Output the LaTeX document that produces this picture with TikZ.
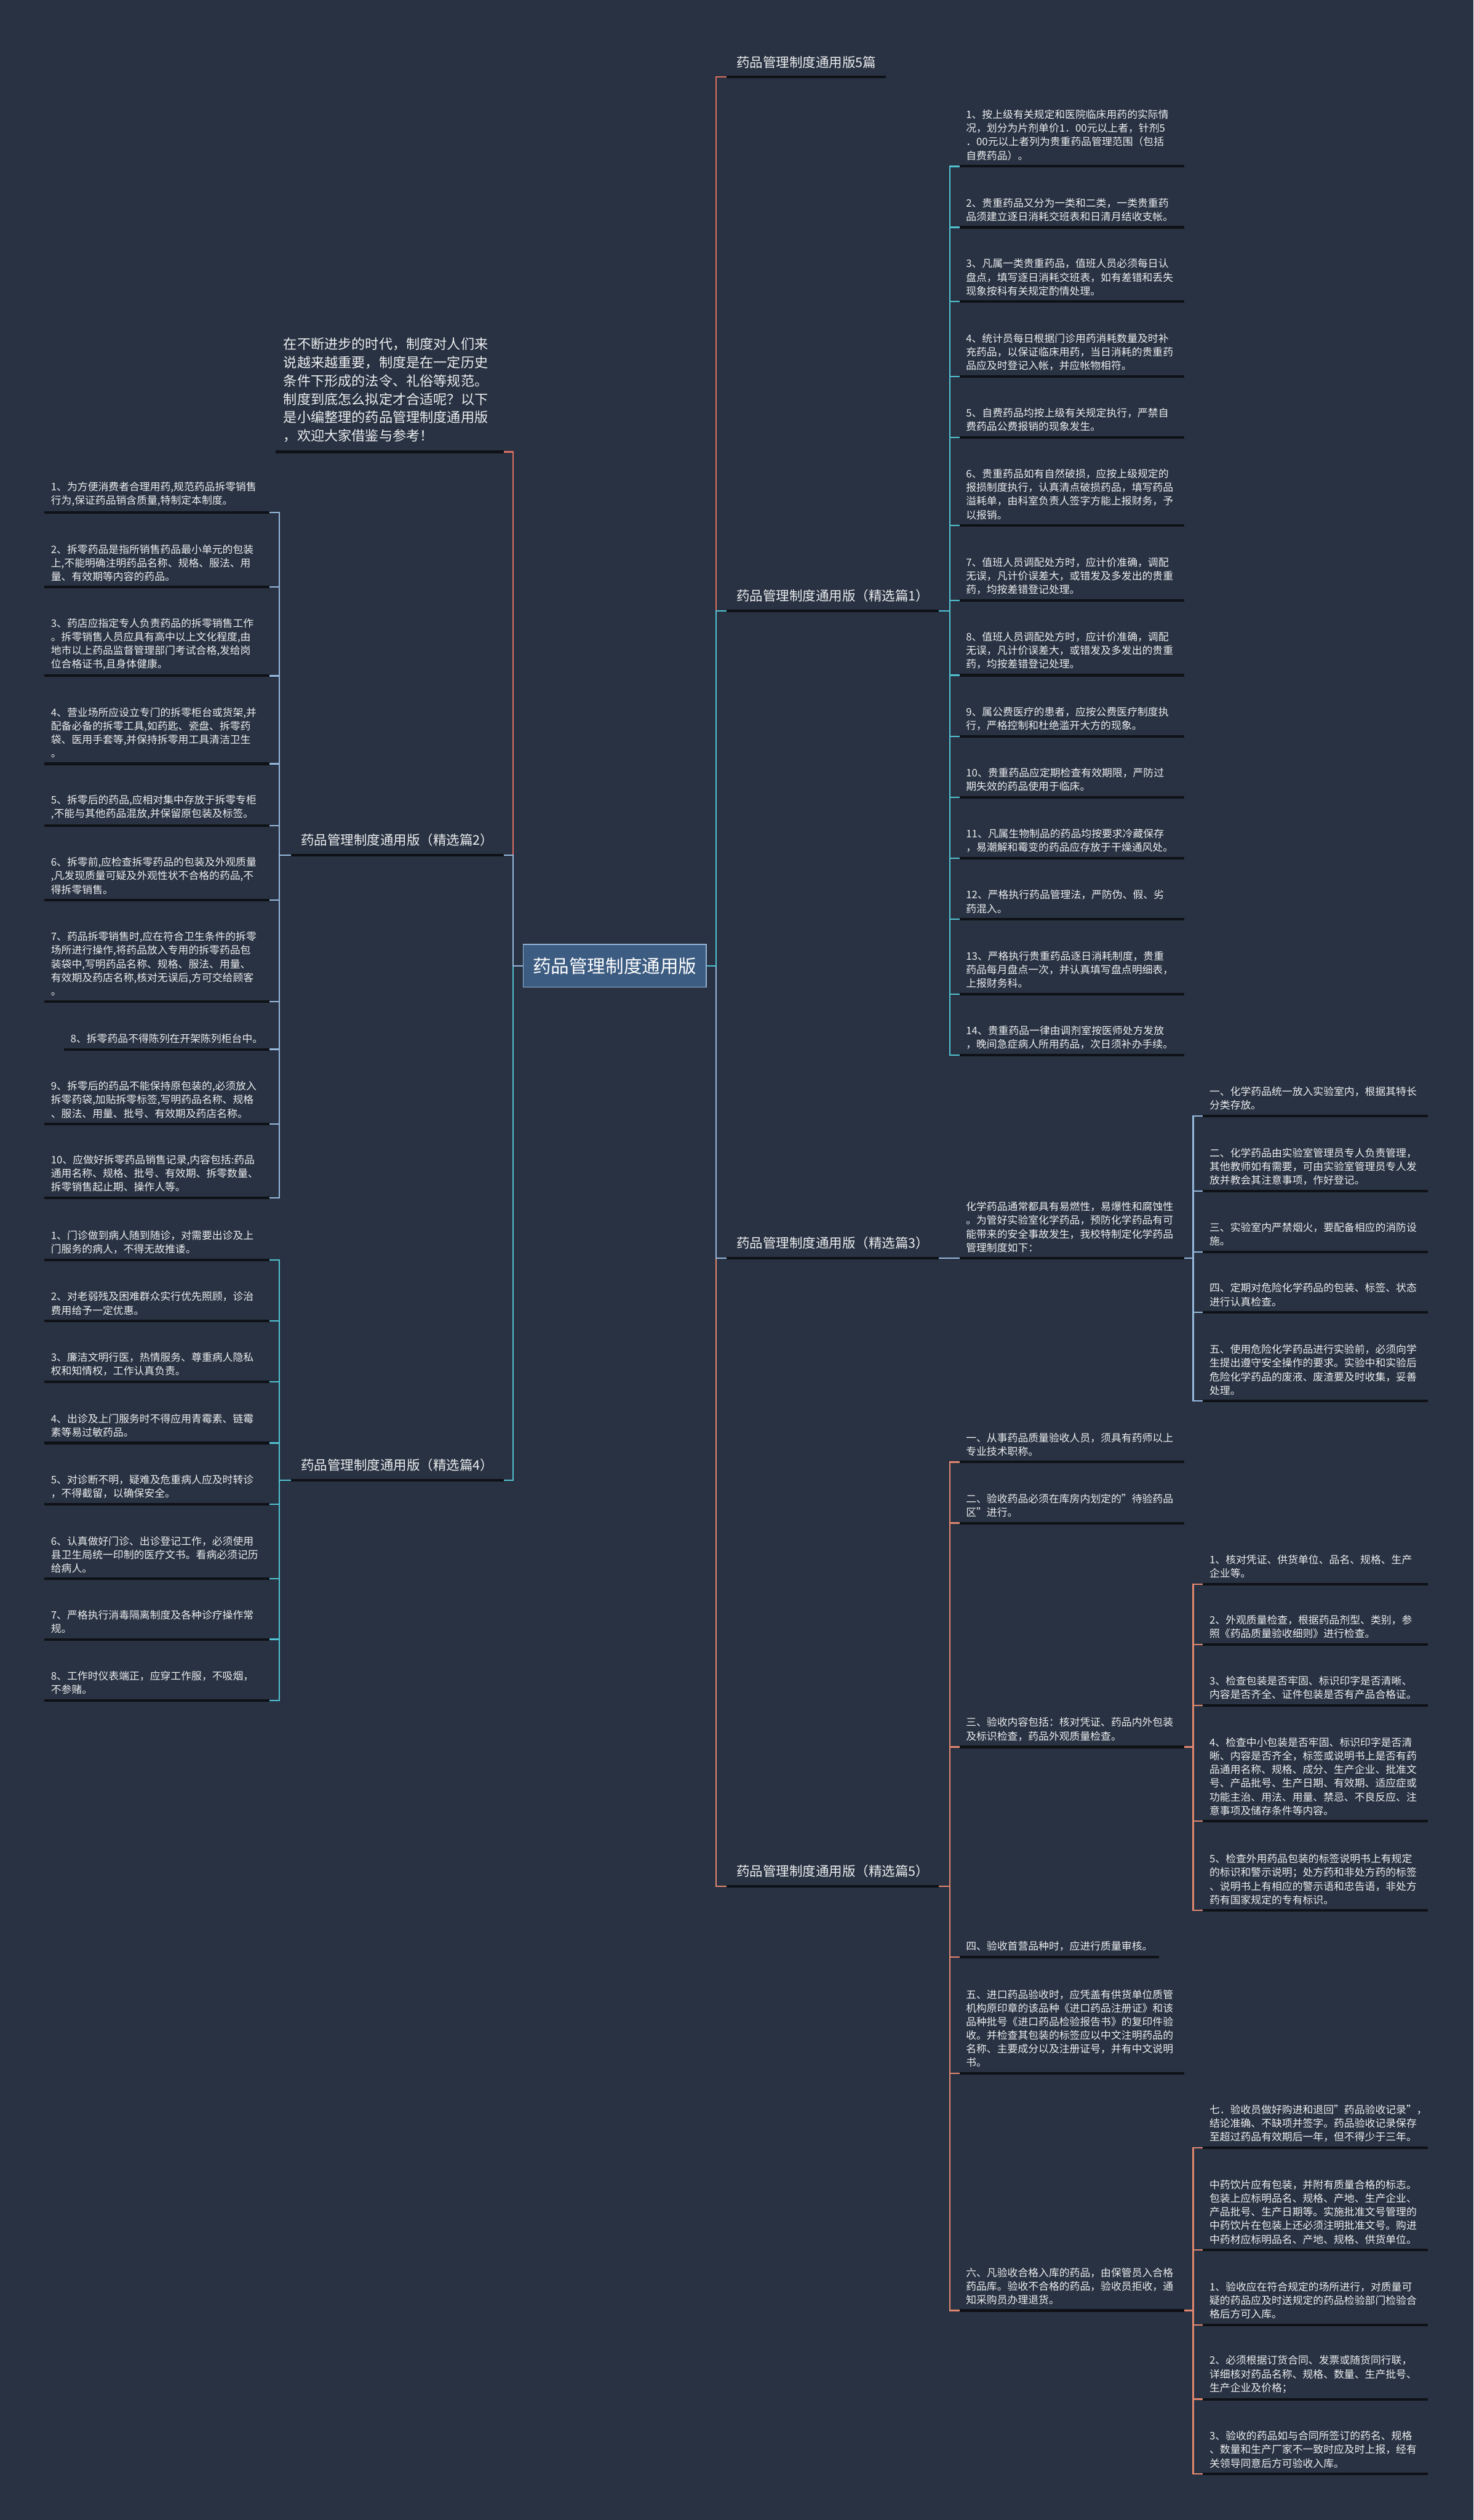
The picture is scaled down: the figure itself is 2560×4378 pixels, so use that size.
\documentclass[tikz,border=0pt]{standalone}
\usepackage{fontspec}
\setmainfont{Noto Sans CJK SC}
\definecolor{bgc}{RGB}{41,50,66}
\definecolor{inkc}{RGB}{236,238,240}
\definecolor{linec}{RGB}{14,17,22}
\definecolor{rootc}{RGB}{60,92,130}
\definecolor{rootd}{RGB}{150,180,215}
\definecolor{redc}{RGB}{222,110,95}
\definecolor{coralc}{RGB}{226,135,110}
\definecolor{tealc}{RGB}{80,195,210}
\definecolor{steelc}{RGB}{150,185,220}
\begin{document}
\begin{tikzpicture}[x=0.5pt, y=-0.5pt,
    rootbox/.style={draw=rootd, fill=rootc, line width=1pt, text=white,
      minimum width=159pt, minimum height=37pt, font=\fontsize{15.8}{18}\selectfont},
    branch/.style={anchor=south west, inner xsep=8.5pt, inner ysep=7.5pt, text=inkc,
      font=\fontsize{11.5}{14}\selectfont},
    lbranch/.style={branch, anchor=south east},
    note/.style={anchor=south east, text width=184.5pt, align=left, inner xsep=6.5pt,
      inner ysep=8pt, text=inkc, font=\fontsize{11.85}{15.9}\selectfont},
    one/.style={anchor=south west, inner xsep=5.5pt, inner ysep=5pt, text=inkc,
      font=\fontsize{9}{11.8}\selectfont},
    leaf/.style={one, text width=184pt, align=left},
    lleaf/.style={leaf, anchor=south east},
    lone/.style={one, anchor=south east},
    uline/.style={draw=linec, line width=2.2pt},
    wire/.style={line width=1.2pt}]
  % canvas in reference pixels, y downwards
  \path[use as bounding box, fill=bgc] (0,0) rectangle (2560,4378);

  \node[rootbox] (root) at (1068,1678) {药品管理制度通用版};

  % right side branches
  \node[branch] (r0) at (1262,134) {药品管理制度通用版5篇};
  \node[branch] (r1) at (1262,1061) {药品管理制度通用版（精选篇1）};
  \node[branch] (r3) at (1262,2186) {药品管理制度通用版（精选篇3）};
  \node[branch] (r5) at (1262,3277) {药品管理制度通用版（精选篇5）};

  % left side branches
  \node[note] (lintro) at (875,785) {在不断进步的时代，制度对人们来\\说越来越重要，制度是在一定历史\\条件下形成的法令、礼俗等规范。\\制度到底怎么拟定才合适呢？以下\\是小编整理的药品管理制度通用版\\，欢迎大家借鉴与参考！};
  \node[lbranch] (l2) at (875,1486) {药品管理制度通用版（精选篇2）};
  \node[lbranch] (l4) at (875,2572) {药品管理制度通用版（精选篇4）};

  % pian 1
  \node[leaf] (a1) at (1667,289) {1、按上级有关规定和医院临床用药的实际情\\况，划分为片剂单价1．00元以上者，针剂5\\．00元以上者列为贵重药品管理范围（包括\\自费药品）。};
  \node[leaf] (a2) at (1667,395) {2、贵重药品又分为一类和二类，一类贵重药\\品须建立逐日消耗交班表和日清月结收支帐。};
  \node[leaf] (a3) at (1667,524) {3、凡属一类贵重药品，值班人员必须每日认\\盘点，填写逐日消耗交班表，如有差错和丢失\\现象按科有关规定酌情处理。};
  \node[leaf] (a4) at (1667,654) {4、统计员每日根据门诊用药消耗数量及时补\\充药品，以保证临床用药，当日消耗的贵重药\\品应及时登记入帐，并应帐物相符。};
  \node[leaf] (a5) at (1667,760) {5、自费药品均按上级有关规定执行，严禁自\\费药品公费报销的现象发生。};
  \node[leaf] (a6) at (1667,913) {6、贵重药品如有自然破损，应按上级规定的\\报损制度执行，认真清点破损药品，填写药品\\溢耗单，由科室负责人签字方能上报财务，予\\以报销。};
  \node[leaf] (a7) at (1667,1043) {7、值班人员调配处方时，应计价准确，调配\\无误，凡计价误差大，或错发及多发出的贵重\\药，均按差错登记处理。};
  \node[leaf] (a8) at (1667,1173) {8、值班人员调配处方时，应计价准确，调配\\无误，凡计价误差大，或错发及多发出的贵重\\药，均按差错登记处理。};
  \node[leaf] (a9) at (1667,1279) {9、属公费医疗的患者，应按公费医疗制度执\\行，严格控制和杜绝滥开大方的现象。};
  \node[leaf] (a10) at (1667,1385) {10、贵重药品应定期检查有效期限，严防过\\期失效的药品使用于临床。};
  \node[leaf] (a11) at (1667,1491) {11、凡属生物制品的药品均按要求冷藏保存\\，易潮解和霉变的药品应存放于干燥通风处。};
  \node[leaf] (a12) at (1667,1597) {12、严格执行药品管理法，严防伪、假、劣\\药混入。};
  \node[leaf] (a13) at (1667,1727) {13、严格执行贵重药品逐日消耗制度，贵重\\药品每月盘点一次，并认真填写盘点明细表，\\上报财务科。};
  \node[leaf] (a14) at (1667,1833) {14、贵重药品一律由调剂室按医师处方发放\\，晚间急症病人所用药品，次日须补办手续。};

  % pian 3
  \node[leaf] (c0) at (1667,2186) {化学药品通常都具有易燃性，易爆性和腐蚀性\\。为管好实验室化学药品，预防化学药品有可\\能带来的安全事故发生，我校特制定化学药品\\管理制度如下：};
  \node[leaf] (c1) at (2090,1939) {一、化学药品统一放入实验室内，根据其特长\\分类存放。};
  \node[leaf] (c2) at (2090,2069) {二、化学药品由实验室管理员专人负责管理，\\其他教师如有需要，可由实验室管理员专人发\\放并教会其注意事项，作好登记。};
  \node[leaf] (c3) at (2090,2175) {三、实验室内严禁烟火，要配备相应的消防设\\施。};
  \node[leaf] (c4) at (2090,2280) {四、定期对危险化学药品的包装、标签、状态\\进行认真检查。};
  \node[leaf] (c5) at (2090,2434) {五、使用危险化学药品进行实验前，必须向学\\生提出遵守安全操作的要求。实验中和实验后\\危险化学药品的废液、废渣要及时收集，妥善\\处理。};

  % pian 5
  \node[leaf] (e1) at (1667,2540) {一、从事药品质量验收人员，须具有药师以上\\专业技术职称。};
  \node[leaf] (e2) at (1667,2646) {二、验收药品必须在库房内划定的"待验药品\\区"进行。};
  \node[leaf] (e3) at (1667,3035) {三、验收内容包括：核对凭证、药品内外包装\\及标识检查，药品外观质量检查。};
  \node[one] (e4) at (1667,3400) {四、验收首营品种时，应进行质量审核。};
  \node[leaf] (e5) at (1667,3602) {五、进口药品验收时，应凭盖有供货单位质管\\机构原印章的该品种《进口药品注册证》和该\\品种批号《进口药品检验报告书》的复印件验\\收。并检查其包装的标签应以中文注明药品的\\名称、主要成分以及注册证号，并有中文说明\\书。};
  \node[leaf] (e6) at (1667,4014) {六、凡验收合格入库的药品，由保管员入合格\\药品库。验收不合格的药品，验收员拒收，通\\知采购员办理退货。};
  \node[leaf] (f1) at (2090,2752) {1、核对凭证、供货单位、品名、规格、生产\\企业等。};
  \node[leaf] (f2) at (2090,2857) {2、外观质量检查，根据药品剂型、类别，参\\照《药品质量验收细则》进行检查。};
  \node[leaf] (f3) at (2090,2963) {3、检查包装是否牢固、标识印字是否清晰、\\内容是否齐全、证件包装是否有产品合格证。};
  \node[leaf] (f4) at (2090,3164) {4、检查中小包装是否牢固、标识印字是否清\\晰、内容是否齐全，标签或说明书上是否有药\\品通用名称、规格、成分、生产企业、批准文\\号、产品批号、生产日期、有效期、适应症或\\功能主治、用法、用量、禁忌、不良反应、注\\意事项及储存条件等内容。};
  \node[leaf] (f5) at (2090,3319) {5、检查外用药品包装的标签说明书上有规定\\的标识和警示说明；处方药和非处方药的标签\\、说明书上有相应的警示语和忠告语，非处方\\药有国家规定的专有标识。};
  \node[leaf] (g1) at (2090,3731) {七．验收员做好购进和退回"药品验收记录"，\\结论准确、不缺项并签字。药品验收记录保存\\至超过药品有效期后一年，但不得少于三年。};
  \node[leaf] (g2) at (2090,3909) {中药饮片应有包装，并附有质量合格的标志。\\包装上应标明品名、规格、产地、生产企业、\\产品批号、生产日期等。实施批准文号管理的\\中药饮片在包装上还必须注明批准文号。购进\\中药材应标明品名、产地、规格、供货单位。};
  \node[leaf] (g3) at (2090,4039) {1、验收应在符合规定的场所进行，对质量可\\疑的药品应及时送规定的药品检验部门检验合\\格后方可入库。};
  \node[leaf] (g4) at (2090,4168) {2、必须根据订货合同、发票或随货同行联，\\详细核对药品名称、规格、数量、生产批号、\\生产企业及价格；};
  \node[leaf] (g5) at (2090,4298) {3、验收的药品如与合同所签订的药名、规格\\、数量和生产厂家不一致时应及时上报，经有\\关领导同意后方可验收入库。};

  % pian 2
  \node[lleaf] (b1) at (468,890) {1、为方便消费者合理用药,规范药品拆零销售\\行为,保证药品销含质量,特制定本制度。};
  \node[lleaf] (b2) at (468,1020) {2、拆零药品是指所销售药品最小单元的包装\\上,不能明确注明药品名称、规格、服法、用\\量、有效期等内容的药品。};
  \node[lleaf] (b3) at (468,1174) {3、药店应指定专人负责药品的拆零销售工作\\。拆零销售人员应具有高中以上文化程度,由\\地市以上药品监督管理部门考试合格,发给岗\\位合格证书,且身体健康。};
  \node[lleaf] (b4) at (468,1327) {4、营业场所应设立专门的拆零柜台或货架,并\\配备必备的拆零工具,如药匙、瓷盘、拆零药\\袋、医用手套等,并保持拆零用工具清洁卫生\\。};
  \node[lleaf] (b5) at (468,1434) {5、拆零后的药品,应相对集中存放于拆零专柜\\,不能与其他药品混放,并保留原包装及标签。};
  \node[lleaf] (b6) at (468,1564) {6、拆零前,应检查拆零药品的包装及外观质量\\,凡发现质量可疑及外观性状不合格的药品,不\\得拆零销售。};
  \node[lleaf] (b7) at (468,1740) {7、药品拆零销售时,应在符合卫生条件的拆零\\场所进行操作,将药品放入专用的拆零药品包\\装袋中,写明药品名称、规格、服法、用量、\\有效期及药店名称,核对无误后,方可交给顾客\\。};
  \node[lone] (b8) at (468,1823) {8、拆零药品不得陈列在开架陈列柜台中。};
  \node[lleaf] (b9) at (468,1953) {9、拆零后的药品不能保持原包装的,必须放入\\拆零药袋,加贴拆零标签,写明药品名称、规格\\、服法、用量、批号、有效期及药店名称。};
  \node[lleaf] (b10) at (468,2081) {10、应做好拆零药品销售记录,内容包括:药品\\通用名称、规格、批号、有效期、拆零数量、\\拆零销售起止期、操作人等。};

  % pian 4
  \node[lleaf] (d1) at (468,2189) {1、门诊做到病人随到随诊，对需要出诊及上\\门服务的病人，不得无故推诿。};
  \node[lleaf] (d2) at (468,2295) {2、对老弱残及困难群众实行优先照顾，诊治\\费用给予一定优惠。};
  \node[lleaf] (d3) at (468,2401) {3、廉洁文明行医，热情服务、尊重病人隐私\\权和知情权，工作认真负责。};
  \node[lleaf] (d4) at (468,2507) {4、出诊及上门服务时不得应用青霉素、链霉\\素等易过敏药品。};
  \node[lleaf] (d5) at (468,2613) {5、对诊断不明，疑难及危重病人应及时转诊\\，不得截留，以确保安全。};
  \node[lleaf] (d6) at (468,2743) {6、认真做好门诊、出诊登记工作，必须使用\\县卫生局统一印制的医疗文书。看病必须记历\\给病人。};
  \node[lleaf] (d7) at (468,2848) {7、严格执行消毒隔离制度及各种诊疗操作常\\规。};
  \node[lleaf] (d8) at (468,2954) {8、工作时仪表端正，应穿工作服，不吸烟，\\不参赌。};

  % underlines
  \foreach \n in {r0,r1,r3,r5,l2,l4,lintro,c0,c1,c2,c3,c4,c5,e1,e2,e3,e4,e5,e6,f1,f2,f3,f4,f5,g1,g2,g3,g4,g5}
    \draw[uline] (\n.south west) -- (\n.south east);
  \foreach \k in {1,...,14} \draw[uline] (a\k.south west) -- (a\k.south east);
  \foreach \k in {1,...,10} \draw[uline] (b\k.south west) -- (b\k.south east);
  \foreach \k in {1,...,8} \draw[uline] (d\k.south west) -- (d\k.south east);

  % trunks from the root
  \coordinate (rt) at (1244.5,1678);
  \coordinate (lt) at (891.5,1678);
  \draw[wire, coralc] (root.east) -- (rt) |- (r5.south west);
  \draw[wire, steelc] (root.east) -- (rt) |- (r3.south west);
  \draw[wire, redc] (root.east) -- (rt) |- (r0.south west);
  \draw[wire, tealc] (root.east) -- (rt) |- (r1.south west);
  \draw[wire, tealc] (root.west) -- (lt) |- (l4.south east);
  \draw[wire, redc] (root.west) -- (lt) |- (lintro.south east);
  \draw[wire, steelc] (root.west) -- (lt) |- (l2.south east);

  % right elbows
  \coordinate (v1) at (1650,1061);
  \foreach \k in {1,...,14} \draw[wire, tealc] (r1.south east) -- (v1) |- (a\k.south west);
  \coordinate (v3) at (1650,2186);
  \draw[wire, steelc] (r3.south east) -- (v3) |- (c0.south west);
  \coordinate (w3) at (2073,2186);
  \foreach \k in {1,...,5} \draw[wire, steelc] (c0.south east) -- (w3) |- (c\k.south west);
  \coordinate (v5) at (1650,3277);
  \foreach \k in {1,...,6} \draw[wire, coralc] (r5.south east) -- (v5) |- (e\k.south west);
  \coordinate (w5a) at (2073,3035);
  \foreach \k in {1,...,5} \draw[wire, coralc] (e3.south east) -- (w5a) |- (f\k.south west);
  \coordinate (w5b) at (2073,4014);
  \foreach \k in {1,...,5} \draw[wire, coralc] (e6.south east) -- (w5b) |- (g\k.south west);

  % left elbows
  \coordinate (v2) at (485,1486);
  \foreach \k in {1,...,10} \draw[wire, steelc] (l2.south west) -- (v2) |- (b\k.south east);
  \coordinate (v4) at (485,2572);
  \foreach \k in {1,...,8} \draw[wire, tealc] (l4.south west) -- (v4) |- (d\k.south east);
\end{tikzpicture}
\end{document}
